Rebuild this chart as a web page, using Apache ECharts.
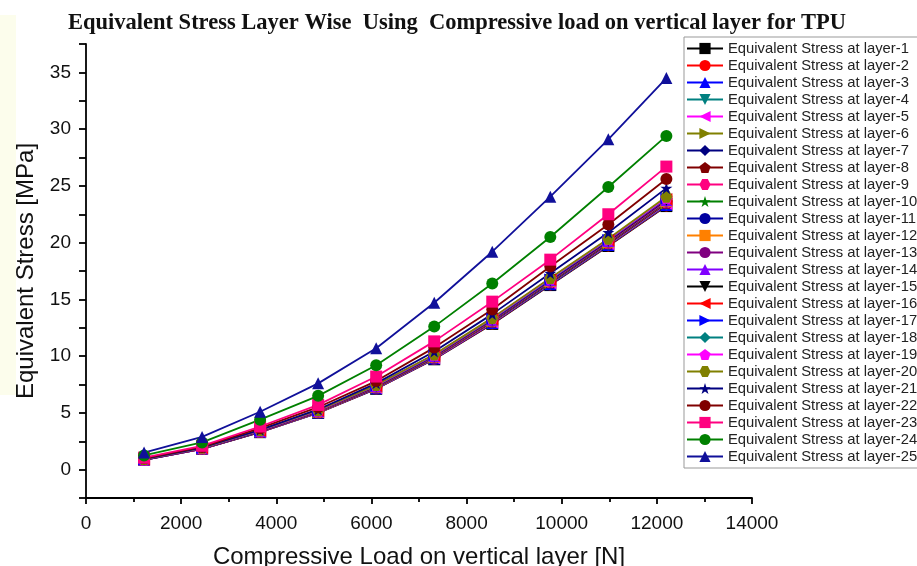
<!DOCTYPE html>
<html>
<head>
<meta charset="utf-8">
<script src="https://cdn.jsdelivr.net/npm/echarts@6/dist/echarts.min.js"></script>
<style>
html,body{margin:0;padding:0;background:#fff;}
#chart{width:917px;height:566px;}
</style>
</head>
<body>
<div id="chart"></div>
<script>
// Compressive load (N)
const loads = [1220, 2440, 3660, 4880, 6100, 7320, 8540, 9760, 10980, 12200];

// Equivalent stress (MPa) per layer
const layer1  = [0.86, 1.82, 3.30, 5.00, 7.12, 9.72, 12.84, 16.26, 19.70, 23.22];
const layer2  = [0.86, 1.83, 3.31, 5.01, 7.14, 9.75, 12.88, 16.30, 19.74, 23.28];
const layer3  = [0.87, 1.83, 3.32, 5.03, 7.16, 9.78, 12.91, 16.34, 19.78, 23.32];
const layer4  = [0.87, 1.84, 3.33, 5.04, 7.18, 9.80, 12.94, 16.38, 19.82, 23.36];
const layer5  = [0.87, 1.84, 3.34, 5.05, 7.20, 9.82, 12.97, 16.41, 19.86, 23.40];
const layer6  = [0.88, 1.85, 3.35, 5.07, 7.22, 9.85, 13.00, 16.45, 19.90, 23.45];
const layer7  = [0.88, 1.85, 3.35, 5.08, 7.23, 9.87, 13.02, 16.47, 19.92, 23.48];
const layer8  = [0.88, 1.86, 3.36, 5.09, 7.25, 9.89, 13.05, 16.50, 19.95, 23.52];
const layer9  = [0.89, 1.86, 3.37, 5.10, 7.26, 9.91, 13.07, 16.53, 19.98, 23.55];
const layer10 = [0.89, 1.87, 3.38, 5.11, 7.28, 9.93, 13.10, 16.56, 20.02, 23.60];
const layer11 = [0.89, 1.87, 3.38, 5.12, 7.29, 9.95, 13.12, 16.58, 20.04, 23.62];
const layer12 = [0.90, 1.88, 3.39, 5.13, 7.31, 9.97, 13.15, 16.62, 20.08, 23.66];
const layer13 = [0.90, 1.88, 3.40, 5.14, 7.32, 9.99, 13.17, 16.64, 20.10, 23.70];
const layer14 = [0.90, 1.89, 3.41, 5.16, 7.34, 10.01, 13.20, 16.68, 20.14, 23.74];
const layer15 = [0.91, 1.89, 3.42, 5.17, 7.36, 10.03, 13.22, 16.70, 20.17, 23.78];
const layer16 = [0.91, 1.90, 3.43, 5.18, 7.37, 10.05, 13.25, 16.74, 20.20, 23.82];
const layer17 = [0.91, 1.90, 3.44, 5.19, 7.39, 10.07, 13.27, 16.76, 20.23, 23.86];
const layer18 = [0.92, 1.91, 3.45, 5.21, 7.41, 10.10, 13.30, 16.80, 20.27, 23.92];
const layer19 = [0.92, 1.91, 3.46, 5.22, 7.43, 10.12, 13.33, 16.83, 20.30, 23.96];
const layer20 = [0.93, 1.92, 3.47, 5.24, 7.45, 10.15, 13.37, 16.88, 20.35, 24.05];
const layer21 = [0.95, 1.95, 3.50, 5.30, 7.60, 10.40, 13.70, 17.30, 20.90, 24.80];
const layer22 = [1.00, 2.00, 3.65, 5.50, 7.80, 10.75, 14.10, 17.90, 21.60, 25.60];
const layer23 = [1.05, 2.10, 3.80, 5.70, 8.20, 11.30, 14.80, 18.50, 22.50, 26.70];
const layer24 = [1.25, 2.40, 4.40, 6.50, 9.20, 12.60, 16.40, 20.50, 24.90, 29.40];
const layer25 = [1.50, 2.88, 5.10, 7.60, 10.70, 14.70, 19.20, 24.05, 29.10, 34.50];

const layers = [layer1, layer2, layer3, layer4, layer5, layer6, layer7, layer8, layer9, layer10,
  layer11, layer12, layer13, layer14, layer15, layer16, layer17, layer18, layer19, layer20,
  layer21, layer22, layer23, layer24, layer25];

const names = layers.map((_, i) => 'Equivalent Stress at layer-' + (i + 1));

const xTicks = [0, 2000, 4000, 6000, 8000, 10000, 12000, 14000];
const yTickLabels = [0, 5, 10, 15, 20, 25, 30, 35];

// styling
const colors = ['#000000', '#FF0000', '#0000FF', '#008080', '#FF00FF', '#808000', '#000080', '#800000',
  '#FF0080', '#008000', '#0000A0', '#FF8000', '#800080', '#8000FF', '#000000', '#FF0000', '#0000FF',
  '#008080', '#FF00FF', '#808000', '#000080', '#800000', '#FF0080', '#008000', '#10109a'];

const SQ = 'rect', CI = 'circle', TU = 'triangle', DI = 'diamond';
const TD = 'path://M0,0 L10,0 L5,9 Z';
const TL = 'path://M0,5 L9,0 L9,10 Z';
const TR = 'path://M0,0 L9,5 L0,10 Z';
const PE = 'path://M5,0 L10,3.8 L8.1,10 L1.9,10 L0,3.8 Z';
const HX = 'path://M2.5,0 L7.5,0 L10,5 L7.5,10 L2.5,10 L0,5 Z';
const ST = 'path://M5,0 L6.2,3.6 L10,3.6 L6.9,5.9 L8.1,9.5 L5,7.3 L1.9,9.5 L3.1,5.9 L0,3.6 L3.8,3.6 Z';
const symbols = [SQ, CI, TU, TD, TL, TR, DI, PE, HX, ST, CI, SQ, CI, TU, TD, TL, TR, DI, PE, HX, ST, CI, SQ, CI, TU];

const chart = echarts.init(document.getElementById('chart'));

const series = layers.map((vals, i) => ({
  name: names[i],
  type: 'line',
  data: loads.map((x, j) => [x, vals[j]]),
  symbol: symbols[i],
  symbolSize: 12,
  showAllSymbol: true,
  lineStyle: { color: colors[i], width: 1.8 },
  itemStyle: { color: colors[i] },
  emphasis: { disabled: true },
  animation: false
}));

const option = {
  backgroundColor: '#ffffff',
  animation: false,
  title: {
    text: 'Equivalent Stress Layer Wise  Using  Compressive load on vertical layer for TPU',
    left: 452, top: 7, textAlign: 'center',
    textStyle: { fontFamily: 'Liberation Serif', fontWeight: 'bold', fontSize: 22.5, color: '#111' }
  },
  graphic: [
    { type: 'rect', left: 0, top: 15, shape: { width: 16, height: 380 }, style: { fill: '#fcfdec' }, z: -10 }
  ],
  grid: { left: 86, right: 165, top: 44, bottom: 68, containLabel: false, outerBoundsMode: 'none' },
  legend: {
    orient: 'vertical',
    left: 684, top: 37,
    padding: [4, 40, 4, 2],
    itemWidth: 36, itemHeight: 14, itemGap: 2,
    borderColor: '#999', borderWidth: 1,
    backgroundColor: '#fff',
    textStyle: { fontFamily: 'Liberation Sans', fontSize: 14.8, lineHeight: 13, color: '#222' },
    data: names
  },
  xAxis: {
    type: 'value', min: 0, max: 14000, interval: 2000,
    name: 'Compressive Load on vertical layer [N]',
    nameLocation: 'middle', nameGap: 47,
    nameTextStyle: { fontFamily: 'Liberation Sans', fontSize: 24, color: '#111' },
    axisLine: { show: true, onZero: false, lineStyle: { color: '#000', width: 1.8 } },
    axisTick: { show: true, length: 6, lineStyle: { color: '#000', width: 1.8 } },
    minorTick: { show: true, splitNumber: 2, length: 4, lineStyle: { color: '#000', width: 1.8 } },
    axisLabel: { fontFamily: 'Liberation Sans', fontSize: 19, color: '#111', margin: 16,
      formatter: v => xTicks.indexOf(v) >= 0 ? String(v) : '' },
    splitLine: { show: false }
  },
  yAxis: {
    type: 'value', min: -2.5, max: 37.5, interval: 2.5,
    name: 'Equivalent Stress [MPa]',
    nameLocation: 'middle', nameGap: 48,
    nameTextStyle: { fontFamily: 'Liberation Sans', fontSize: 24, color: '#111' },
    axisLine: { show: true, onZero: false, lineStyle: { color: '#000', width: 1.8 } },
    axisTick: { show: true, length: 7, lineStyle: { color: '#000', width: 1.8 } },
    axisLabel: { fontFamily: 'Liberation Sans', fontSize: 19, color: '#111', margin: 15,
      formatter: v => yTickLabels.indexOf(v) >= 0 ? String(v) : '' },
    splitLine: { show: false }
  },
  series: series
};

chart.setOption(option);
</script>
</body>
</html>
